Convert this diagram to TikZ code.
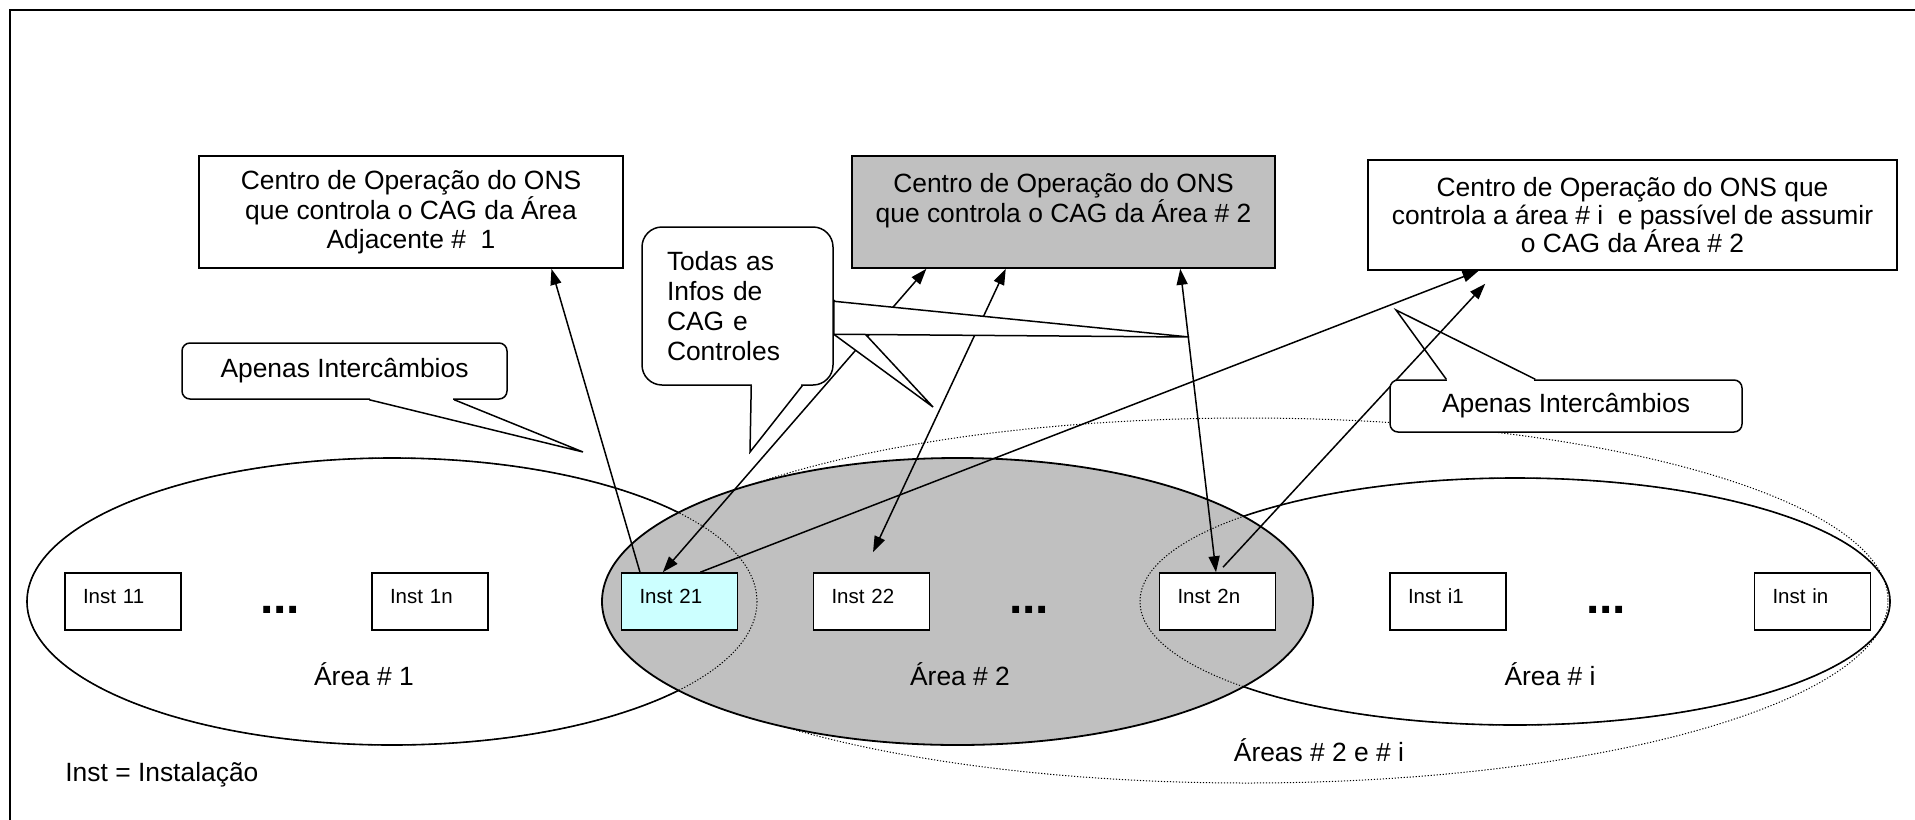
\documentclass[tikz,border=0pt]{standalone}
\usepackage{fontspec}
\setmainfont{Liberation Sans}
\usetikzlibrary{arrows.meta,calc}
\pgfdeclarelayer{back}
\pgfdeclarelayer{front}
\pgfsetlayers{back,main,front}
\definecolor{grayfill}{RGB}{192,192,192}
\definecolor{cyanfill}{RGB}{204,255,255}
\begin{document}
\begin{tikzpicture}[x=0.5pt,y=-0.5pt,
  topbox/.style={draw, line width=0.8pt, fill=white, align=center, inner sep=0pt, font=\fontsize{13.2pt}{14.2pt}\selectfont},
  instbox/.style={draw, line width=0.8pt, fill=white, minimum width=58pt, minimum height=28.5pt, text width=40pt, inner xsep=9pt, inner ysep=0pt, align=left, text height=8pt, text depth=6pt, font=\fontsize{10.25pt}{12pt}\selectfont},
  lbl/.style={inner sep=0pt, font=\fontsize{13.2pt}{14pt}\selectfont},
  ellipsisdots/.style={inner sep=0pt, font=\fontsize{24pt}{24pt}\selectfont\bfseries},
  calloutbody/.style={draw, fill=white, line width=0.75pt, inner sep=0pt, font=\fontsize{13.2pt}{14pt}\selectfont},
  areadot/.style={line width=0.5pt, dash pattern=on 0.6pt off 0.9pt},
  arealine/.style={line width=0.8pt},
  conn/.style={line width=0.75pt, -{Triangle[length=8pt,width=5.5pt]}},
  conntwo/.style={line width=0.75pt, {Triangle[length=8pt,width=5.5pt]}-{Triangle[length=8pt,width=5.5pt]}},
  tailfill/.style={line width=0.75pt, fill=white, line join=miter},
  tailline/.style={line width=0.75pt, line join=miter}
]
\useasboundingbox (0,0) rectangle (1915,819);

% ---------- background: frame and areas ----------
\begin{pgfonlayer}{back}
\draw[line width=1pt] (10,840) -- (10,10) -- (1940,10);
\draw[areadot] (1247,600.5) ellipse [x radius=641, y radius=182.5];
\draw[arealine] (392,601.5) ellipse [x radius=365, y radius=143.5];
\draw[arealine] (1515,601.5) ellipse [x radius=375, y radius=123.5];
\draw[line width=0.9pt, fill=grayfill] (957.5,601.5) ellipse [x radius=355.5, y radius=143.5];
\draw[areadot] (392,601.5) ellipse [x radius=365, y radius=143.5];
\draw[areadot] (1515,601.5) ellipse [x radius=375, y radius=123.5];
\end{pgfonlayer}

% ---------- top boxes ----------
\node[topbox, minimum width=212pt, minimum height=56pt] (box1) at (411,212)
  {Centro de Operação do ONS\\que controla o CAG da Área\\Adjacente \#\ \ 1};
\node[topbox, fill=grayfill, minimum width=211.5pt, minimum height=56pt] (box2) at (1063.5,212)
  {Centro de Operação do ONS\\que controla o CAG da Área \# 2\\ \mbox{}};
\node[topbox, minimum width=264.5pt, minimum height=55pt] (box3) at (1632.5,215)
  {Centro de Operação do ONS que\\controla a área \# i\ \ e passível de assumir\\o CAG da Área \# 2};

% ---------- installations ----------
\node[instbox] (i11) at (123,601.5) {Inst 11};
\node[instbox] (i1n) at (430,601.5) {Inst 1n};
\node[instbox, fill=cyanfill] (i21) at (679.5,601.5) {Inst 21};
\node[instbox] (i22) at (871.5,601.5) {Inst 22};
\node[instbox] (i2n) at (1217.5,601.5) {Inst 2n};
\node[instbox] (ii1) at (1448,601.5) {Inst i1};
\node[instbox] (iin) at (1812.5,601.5) {Inst in};

\node[ellipsisdots] (dots1) at (280,610) {...};
\node[ellipsisdots] (dots2) at (1029,610) {...};
\node[ellipsisdots] (dots3) at (1606,610) {...};

\node[lbl] (la1) at (364,674) {Área \# 1};
\node[lbl] (la2) at (960,674) {Área \# 2};
\node[lbl] (lai) at (1550,674) {Área \# i};
\node[lbl] (la2i) at (1319,750) {Áreas \# 2 e \# i};
\node[lbl, anchor=west] (legend) at (65,775) {Inst = Instalação};

% ---------- callouts ----------
\node[calloutbody, rounded corners=10pt, minimum width=95.5pt, minimum height=79pt,
      text width=70.5pt, inner xsep=12.5pt, align=left,
      font=\fontsize{13.2pt}{15pt}\selectfont] (todas) at (737.5,306)
  {Todas as\\Infos de\\CAG e\\Controles};
\node[calloutbody, rounded corners=4pt, minimum width=162.5pt, minimum height=28pt] (apL) at (344.5,371)
  {Apenas Intercâmbios};
\node[calloutbody, rounded corners=4pt, minimum width=176pt, minimum height=26pt] (apR) at (1566,406)
  {Apenas Intercâmbios};

\coordinate (tipA) at (1189,337);
\coordinate (tipB) at (933,407);
\coordinate (tipC) at (750,452);
\coordinate (tipL) at (583,452);
\coordinate (tipR) at (1396,310);

% ---------- connectors (under the callout tails) ----------
\begin{pgfonlayer}{back}
\draw[conn] ($(i21.north west)!0.164!(i21.north east)$) -- ($(box1.south west)!0.83!(box1.south east)$);
\draw[conntwo] ($(i21.north west)!0.358!(i21.north east)$) -- ($(box2.south west)!0.177!(box2.south east)$);
\draw[conntwo] ($(i22.north)+(1.5,-20)$) -- ($(box2.south west)!0.364!(box2.south east)$);
\draw[conntwo] ($(box2.south west)!0.775!(box2.south east)$) -- ($(i2n.north)+(-1.5,0)$);
\draw[conn] ($(i21.north west)!0.677!(i21.north east)$) -- ($(box3.south west)!0.21!(box3.south east)$);
\draw[conn] ($(i2n.north)+(5.5,-5)$) -- ($(box3.south west)+(118,13)$);
% tails of the "Todas" callout lying behind its body
\draw[tailfill] ($(todas.north east)+(0,74)$) -- (tipB) -- ($(todas.north east)+(0,108)$) -- cycle;
\draw[tailfill] ($(todas.north east)+(0,75)$) -- (tipA) -- ($(todas.north east)+(0,108)$) -- cycle;
\end{pgfonlayer}

% ---------- tails in front of the bodies ----------
\begin{pgfonlayer}{front}
\fill[white] ($(todas.south west)+(111,-3)$) rectangle ($(todas.south west)+(160,3)$);
\draw[tailfill] ($(todas.south west)+(110,0)$) -- (tipC) -- ($(todas.south west)+(161,0)$);
\fill[white] ($(apL.south west)+(189,-3)$) rectangle ($(apL.south west)+(272,3)$);
\draw[tailline] ($(apL.south west)+(188,0)$) -- (tipL) -- ($(apL.south west)+(273,0)$);
\fill[white] ($(apR.north west)+(58,-3)$) rectangle ($(apR.north west)+(145,3)$);
\draw[tailline] ($(apR.north west)+(57,0)$) -- (tipR) -- ($(apR.north west)+(146,0)$);
\end{pgfonlayer}
\end{tikzpicture}
\end{document}
